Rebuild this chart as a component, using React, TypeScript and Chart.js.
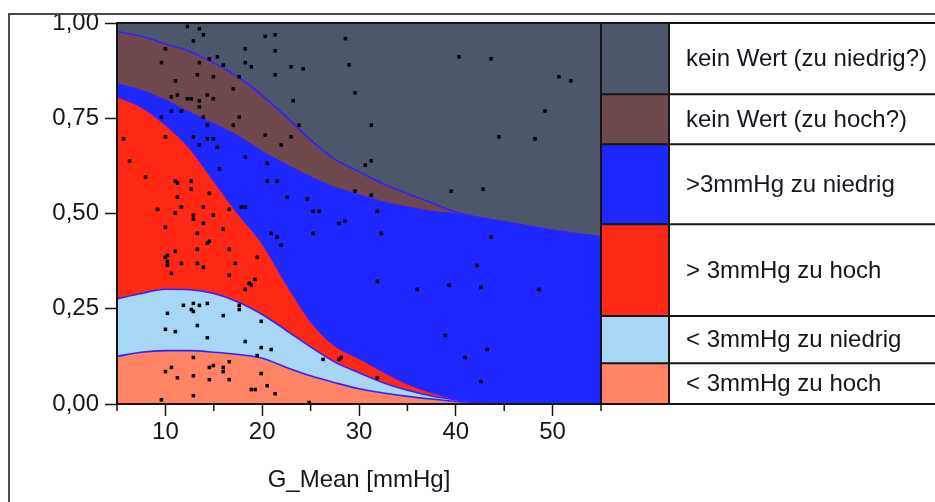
import React, { useEffect, useRef } from 'react';
import { Chart, registerables } from 'chart.js';

Chart.register(...registerables);

// ---- data ----
const gridX = [5, 7.5, 10, 12.5, 15, 17.5, 20, 22.5, 25, 27.5, 30, 32.5, 35, 37.5, 40, 42.5, 45, 47.5, 50, 52.5, 55];
// cumulative probability boundaries (bottom to top)
const cumLt3Hoch = [0.125, 0.136, 0.140, 0.140, 0.136, 0.130, 0.120, 0.096, 0.074, 0.056, 0.040, 0.029, 0.020, 0.013, 0.007, 0.003, 0.001, 0, 0, 0, 0];
const cumLt3Niedrig = [0.276, 0.290, 0.301, 0.300, 0.290, 0.268, 0.235, 0.193, 0.150, 0.110, 0.082, 0.056, 0.036, 0.021, 0.011, 0.004, 0.001, 0, 0, 0, 0];
const cumGt3Hoch = [0.807, 0.780, 0.733, 0.672, 0.586, 0.500, 0.422, 0.315, 0.217, 0.153, 0.120, 0.085, 0.053, 0.030, 0.014, 0.005, 0.001, 0, 0, 0, 0];
const cumGt3Niedrig = [0.840, 0.823, 0.797, 0.765, 0.735, 0.703, 0.662, 0.628, 0.596, 0.568, 0.549, 0.530, 0.517, 0.505, 0.499, 0.489, 0.478, 0.467, 0.456, 0.447, 0.439];
const cumKeinHoch = [0.978, 0.965, 0.945, 0.925, 0.895, 0.859, 0.810, 0.753, 0.693, 0.642, 0.610, 0.578, 0.552, 0.528, 0.504, 0.489, 0.478, 0.467, 0.456, 0.447, 0.439];

// observed points
const ptX = [
  12.27, 13.51, 13.92, 12.89, 20.31, 21.34, 28.59, 10.0, 18.25, 21.34,
  9.59, 13.51, 14.54, 15.36, 15.98, 18.25, 18.87, 22.99, 24.23, 28.97,
  13.3, 14.95, 17.63, 21.34, 11.03, 17.01, 29.59, 10.62, 11.24, 12.27,
  12.68, 13.51, 14.33, 14.95, 23.2, 13.51, 10.62, 11.65, 9.59, 13.92,
  17.63, 14.33, 17.01, 23.81, 20.31, 22.99, 12.89, 14.33, 14.95, 10.0,
  5.67, 13.51, 15.36, 21.96, 18.25, 6.29, 20.52, 15.57, 7.94, 11.03,
  11.24, 12.68, 20.52, 21.55, 12.68, 14.54, 29.59, 11.24, 22.58, 24.64,
  9.18, 11.65, 13.92, 16.6, 17.84, 18.25, 25.26, 25.88, 11.03, 12.89,
  12.89, 14.95, 10.0, 13.92, 15.98, 13.3, 27.94, 28.56, 25.26, 20.93,
  21.55, 21.96, 14.54, 14.33, 13.3, 16.6, 11.03, 10.0, 10.21, 10.21,
  10.21, 11.65, 13.3, 13.92, 17.22, 19.48, 10.62, 16.6, 19.28, 18.66,
  18.87, 18.25, 11.86, 12.89, 13.51, 14.33, 17.63, 17.63, 12.68, 12.89,
  10.21, 15.98, 19.9, 13.3, 10.0, 11.03, 14.33, 18.25, 19.9, 20.93,
  19.48, 26.29, 27.94, 28.14, 12.89, 16.6, 14.95, 14.54, 10.62, 10.0,
  15.98, 15.98, 19.9, 11.24, 12.89, 14.54, 16.6, 20.52, 18.87, 19.28,
  21.34, 12.89, 9.59, 24.85,
  40.34, 43.64, 50.65, 51.89, 31.27, 49.21, 44.46, 48.18, 31.27, 30.65,
  31.27, 39.52, 42.81, 31.89,
  32.3, 43.64, 42.2, 31.89, 36.01, 39.31, 42.61, 48.59, 38.9, 43.23,
  40.96, 31.89, 42.61,
];
const ptY = [
  0.991, 0.985, 0.969, 0.953, 0.965, 0.969, 0.959, 0.932, 0.932, 0.927,
  0.896, 0.896, 0.906, 0.911, 0.89, 0.896, 0.885, 0.885, 0.88, 0.89,
  0.864, 0.859, 0.859, 0.864, 0.848, 0.827, 0.817, 0.806, 0.811, 0.801,
  0.801, 0.796, 0.811, 0.801, 0.796, 0.78, 0.769, 0.769, 0.753, 0.753,
  0.753, 0.732, 0.732, 0.732, 0.706, 0.701, 0.701, 0.696, 0.696, 0.701,
  0.696, 0.68, 0.674, 0.68, 0.648, 0.638, 0.632, 0.617, 0.596, 0.585,
  0.58, 0.585, 0.585, 0.585, 0.564, 0.553, 0.559, 0.543, 0.543, 0.538,
  0.511, 0.517, 0.517, 0.511, 0.517, 0.517, 0.506, 0.506, 0.501, 0.496,
  0.485, 0.496, 0.464, 0.474, 0.459, 0.448, 0.474, 0.48, 0.448, 0.448,
  0.438, 0.417, 0.427, 0.422, 0.406, 0.406, 0.401, 0.385, 0.39, 0.374,
  0.364, 0.369, 0.369, 0.359, 0.369, 0.385, 0.343, 0.338, 0.327, 0.317,
  0.312, 0.301, 0.259, 0.264, 0.259, 0.264, 0.259, 0.248, 0.248, 0.243,
  0.238, 0.232, 0.217, 0.206, 0.196, 0.19, 0.174, 0.164, 0.148, 0.143,
  0.127, 0.117, 0.117, 0.122, 0.122, 0.111, 0.101, 0.096, 0.096, 0.085,
  0.096, 0.085, 0.08, 0.069, 0.074, 0.064, 0.064, 0.048, 0.038, 0.038,
  0.027, 0.022, 0.011, 0.004,
  0.911, 0.906, 0.859, 0.848, 0.732, 0.769, 0.701, 0.696, 0.638, 0.627,
  0.548, 0.559, 0.564, 0.506,
  0.448, 0.438, 0.364, 0.322, 0.301, 0.312, 0.306, 0.301, 0.18, 0.143,
  0.122, 0.069, 0.059,
];

// legend rows, bottom to top
const categoryLabels = ['< 3mmHg zu hoch', '< 3mmHg zu niedrig', '> 3mmHg zu hoch', '>3mmHg zu niedrig', 'kein Wert (zu hoch?)', 'kein Wert (zu niedrig?)'];
const legendShares = [0.107, 0.124, 0.241, 0.210, 0.131, 0.187];

const xMajorTicks = [10, 20, 30, 40, 50];
const xMinorTicks = [5, 15, 25, 35, 45, 55];
const yTicks = [0, 0.25, 0.5, 0.75, 1];

const FONT = '"Liberation Sans", Arial, sans-serif';
const FONT_SIZE = 24;
const TEXT = '#16161e';
const C_SALMON = '#ff8466';
const C_LIGHT = '#a8d6f6';
const C_RED = '#ff2814';
const C_BLUE = '#1c28ff';
const C_BROWN = '#6e4a4e';
const C_SLATE = '#4f5869';
const C_EDGE = '#3420ff';

export default function App() {
  const ref = useRef<HTMLCanvasElement | null>(null);

  useEffect(() => {
    const canvas = ref.current;
    if (!canvas) return;
    const ctx0 = canvas.getContext('2d')!;

    const pc = document.createElement('canvas');
    pc.width = 4; pc.height = 4;
    const pctx = pc.getContext('2d')!;
    pctx.fillStyle = C_SLATE; pctx.fillRect(0, 0, 4, 4);
    pctx.fillStyle = '#4a4c7a';
    pctx.fillRect(0, 0, 1, 1); pctx.fillRect(2, 2, 1, 1);
    const slatePattern = ctx0.createPattern(pc, 'repeat') as CanvasPattern;

    const legendFills: (string | CanvasPattern)[] = [C_SALMON, C_LIGHT, C_RED, C_BLUE, C_BROWN, slatePattern];

    const toPts = (ys: number[]) => gridX.map((x, i) => ({ x, y: ys[i] }));
    const area = (ys: number[], fill: any, bg: any, bw = 1.6) => ({
      type: 'line' as const,
      data: toPts(ys),
      fill,
      backgroundColor: bg,
      borderColor: C_EDGE,
      borderWidth: bw,
      pointRadius: 0,
      cubicInterpolationMode: 'monotone' as const,
    });

    const framePlugin = {
      id: 'frame',
      afterDraw(chart: any) {
        const { ctx, chartArea: a, scales } = chart;
        const xs = scales.x, ys = scales.y;
        const W = chart.width;
        ctx.save();
        // outer frame
        ctx.strokeStyle = '#4a4a4a';
        ctx.lineWidth = 2;
        ctx.beginPath();
        ctx.moveTo(9, chart.height);
        ctx.lineTo(9, 14);
        ctx.lineTo(W, 14);
        ctx.stroke();

        // legend table
        const swRight = 669;
        let cum = 0;
        ctx.font = `${FONT_SIZE}px ${FONT}`;
        ctx.textBaseline = 'middle';
        ctx.textAlign = 'left';
        const rowLines: number[] = [ys.getPixelForValue(0)];
        for (let i = 0; i < legendShares.length; i++) {
          const y0 = ys.getPixelForValue(cum);
          cum += legendShares[i];
          const y1 = ys.getPixelForValue(Math.min(cum, 1));
          ctx.fillStyle = legendFills[i];
          ctx.fillRect(a.right, y1, swRight - a.right, y0 - y1);
          ctx.fillStyle = TEXT;
          ctx.fillText(categoryLabels[i], 686, (y0 + y1) / 2 + 1);
          rowLines.push(y1);
        }
        ctx.strokeStyle = '#151515';
        ctx.lineWidth = 2;
        ctx.beginPath();
        rowLines.forEach((yy) => { ctx.moveTo(a.right, yy); ctx.lineTo(W, yy); });
        ctx.moveTo(swRight, a.top); ctx.lineTo(swRight, a.bottom);
        ctx.stroke();

        // plot border
        ctx.strokeRect(a.left, a.top, a.right - a.left, a.bottom - a.top);

        // minor x ticks
        ctx.lineWidth = 1.5;
        ctx.strokeStyle = '#151515';
        ctx.beginPath();
        xMinorTicks.forEach((v) => {
          const px = xs.getPixelForValue(v);
          ctx.moveTo(px, a.bottom);
          ctx.lineTo(px, a.bottom + 7);
        });
        ctx.stroke();
        ctx.restore();
      },
    };

    const chart = new Chart(canvas, {
      type: 'line',
      data: {
        datasets: [
          {
            type: 'scatter' as const,
            data: ptX.map((x, i) => ({ x, y: ptY[i] })),
            pointStyle: 'rect',
            pointRadius: 2.5,
            pointBorderWidth: 0,
            borderWidth: 0,
            backgroundColor: '#000',
            pointBackgroundColor: '#000',
            showLine: false,
          } as any,
          area(cumLt3Hoch, 'origin', C_SALMON),
          area(cumLt3Niedrig, '-1', C_LIGHT),
          area(cumGt3Hoch, '-1', C_RED),
          area(cumGt3Niedrig, '-1', C_BLUE),
          area(cumKeinHoch, '-1', C_BROWN),
          area(cumKeinHoch, 'end', slatePattern, 0),
        ],
      },
      options: {
        responsive: false,
        animation: false,
        devicePixelRatio: 1,
        layout: { padding: { top: 23, right: 334, left: 0, bottom: 0 } },
        plugins: {
          legend: { display: false },
          tooltip: { enabled: false },
        },
        scales: {
          x: {
            type: 'linear',
            min: 5,
            max: 55,
            afterBuildTicks: (s: any) => { s.ticks = xMajorTicks.map((v) => ({ value: v })); },
            afterFit: (s: any) => { s.height = 98; },
            ticks: {
              color: TEXT,
              font: { family: FONT, size: FONT_SIZE },
              padding: 2,
              maxRotation: 0,
              autoSkip: false,
              callback: (v: any) => String(v),
            },
            grid: {
              display: true,
              drawOnChartArea: false,
              drawTicks: true,
              tickLength: 12,
              color: '#151515',
              tickColor: '#151515',
              tickWidth: 1.5,
            },
            border: { display: false },
            title: {
              display: true,
              text: 'G_Mean [mmHg]',
              color: TEXT,
              font: { family: FONT, size: FONT_SIZE },
              padding: { top: 0, bottom: 7 },
            },
          },
          y: {
            type: 'linear',
            min: 0,
            max: 1,
            afterBuildTicks: (s: any) => { s.ticks = yTicks.map((v) => ({ value: v })); },
            afterFit: (s: any) => { s.width = 117; },
            ticks: {
              color: TEXT,
              font: { family: FONT, size: FONT_SIZE },
              padding: 6,
              callback: (v: any) => Number(v).toFixed(2).replace('.', ','),
            },
            grid: {
              display: true,
              drawOnChartArea: false,
              drawTicks: true,
              tickLength: 12,
              color: '#151515',
              tickColor: '#151515',
              tickWidth: 1.5,
            },
            border: { display: false },
          },
        },
      },
      plugins: [framePlugin],
    });

    return () => chart.destroy();
  }, []);

  return (
    <div style={{ position: 'fixed', left: 0, top: 0, width: 935, height: 502, background: '#fff' }}>
      <canvas ref={ref} width={935} height={502} style={{ display: 'block' }} />
    </div>
  );
}
